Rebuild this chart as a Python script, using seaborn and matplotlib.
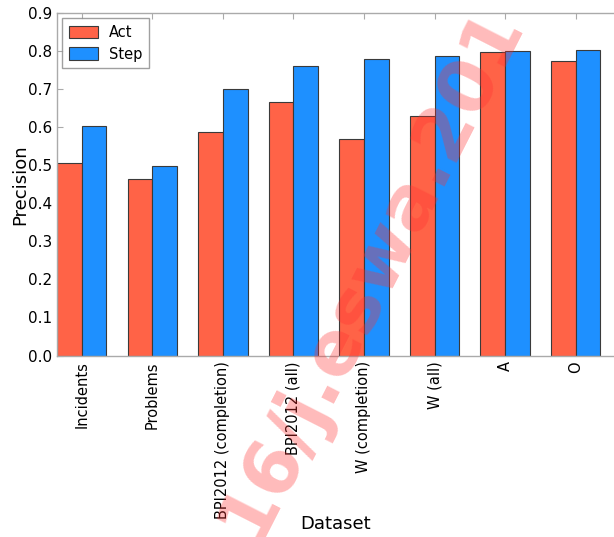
import matplotlib
matplotlib.use("Agg")
import matplotlib.pyplot as plt
import seaborn as sns
import pandas as pd

categories = ["Incidents", "Problems", "BPI2012 (completion)", "BPI2012 (all)",
              "W (completion)", "W (all)", "A", "O"]
act = [0.507, 0.464, 0.589, 0.668, 0.569, 0.630, 0.797, 0.775]
step = [0.603, 0.499, 0.700, 0.761, 0.780, 0.788, 0.800, 0.804]
series = ["Act", "Step"]
yticks = [0.0, 0.1, 0.2, 0.3, 0.4, 0.5, 0.6, 0.7, 0.8, 0.9]

df = pd.DataFrame({
    "Dataset": categories * 2,
    "Precision": act + step,
    "Method": [series[0]] * len(categories) + [series[1]] * len(categories),
})

sns.set_style("white")
plt.rcParams["font.family"] = ["DejaVu Sans"]
plt.rcParams["text.color"] = "black"
plt.rcParams["axes.labelcolor"] = "black"
plt.rcParams["xtick.labelcolor"] = "black"
plt.rcParams["ytick.labelcolor"] = "black"

fig = plt.figure(figsize=(6.14, 5.37), dpi=100)
ax = fig.add_axes([57 / 614, 1 - 355.5 / 537, 1 - 57 / 614, (355.5 - 13.3) / 537])

sns.barplot(data=df, x="Dataset", y="Precision", hue="Method",
            palette=["#FF6347", "#1E90FF"], width=0.7, edgecolor="#3a3a3a",
            linewidth=0.8, saturation=1, ax=ax, errorbar=None)

ax.set_xlim(-0.35, 7.543)
ax.set_ylim(0, 0.9)
ax.set_yticks(yticks)
ax.set_yticklabels([f"{t:.1f}" for t in yticks], fontsize=11, color="black")
ax.tick_params(axis="x", labelrotation=90, labelsize=10.5, direction="in",
               top=True, bottom=True, length=4, color="#aaaaaa", pad=4,
               labelcolor="black")
ax.tick_params(axis="y", direction="in", left=True, length=4, color="#aaaaaa",
               labelcolor="black")
for s in ["left", "top", "bottom"]:
    ax.spines[s].set_color("#aaaaaa")
    ax.spines[s].set_linewidth(1.0)
ax.spines["right"].set_visible(False)
ax.set_xlabel("Dataset", fontsize=13, labelpad=-3, color="black")
ax.set_ylabel("Precision", fontsize=13, labelpad=-1, color="black")

leg = ax.legend(loc="upper left", fontsize=10.5, fancybox=False, frameon=True,
                edgecolor="#888888", borderpad=0.45, handlelength=2.0,
                handleheight=0.9, handletextpad=0.75, labelspacing=0.45,
                borderaxespad=0.35)
leg.get_frame().set_linewidth(1.0)
leg.set_title(None)
for t in leg.get_texts():
    t.set_color("black")

fig.text(255 / 614, 1 - 542 / 537, "16/j.eswa.201", rotation=63,
         rotation_mode="anchor", ha="left", va="baseline", fontsize=54,
         color="#ff3030", alpha=0.33, fontweight="bold", zorder=10)

fig.savefig("out.png", dpi=100)
